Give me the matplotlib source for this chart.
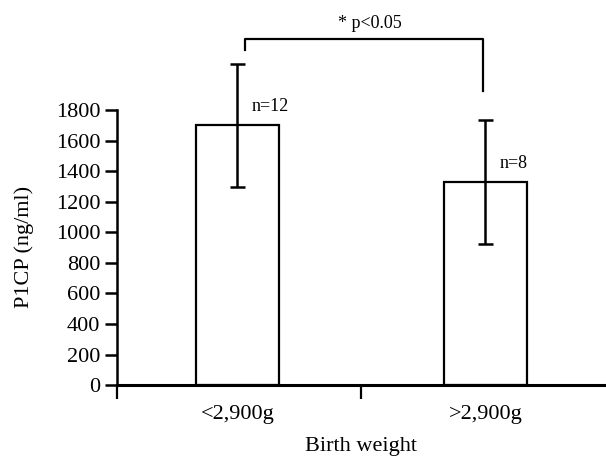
import numpy as np
import matplotlib
matplotlib.use('Agg')
import matplotlib.pyplot as plt

groups = ['<2,900g', '>2,900g']
means = [1700, 1330]
errs = [402, 407]
counts = ['n=12', 'n=8']
yticks = [0, 200, 400, 600, 800, 1000, 1200, 1400, 1600, 1800]
bracket_y = 2265
bracket_left_end = 2195
bracket_right_end = 1925
sig_label = '* p<0.05'

plt.rcParams['font.family'] = ['Liberation Serif', 'DejaVu Serif']

fig = plt.figure(figsize=(6.06, 4.59), dpi=100)
ax = fig.add_axes([0.193, 0.161, 0.807, 0.839])

x = np.arange(len(groups))
ax.bar(x, means, width=0.335, color='white', edgecolor='black', linewidth=1.6, zorder=2)
ax.errorbar(x, means, yerr=errs, fmt='none', ecolor='black', elinewidth=1.8,
            capsize=5.4, capthick=1.8, zorder=3)

for xi, m, c in zip(x, means, counts):
    ax.text(xi + 0.058, m + 65, c, fontsize=13, ha='left', va='bottom')

# significance bracket
ax.plot([0.03, 0.03, 0.99, 0.99],
        [bracket_left_end, bracket_y, bracket_y, bracket_right_end],
        color='black', linewidth=1.6, clip_on=False)
ax.text(0.535, bracket_y + 45, sig_label, fontsize=13, ha='center', va='bottom')

ax.set_xlim(-0.486, 1.486)
ax.set_ylim(0, 2520)

ax.spines['top'].set_visible(False)
ax.spines['right'].set_visible(False)
ax.spines['left'].set_bounds(0, 1800)
ax.spines['left'].set_linewidth(1.8)
ax.spines['bottom'].set_linewidth(2.2)

ax.set_yticks(yticks)
ax.set_yticklabels([str(v) for v in yticks], fontsize=16)
ax.tick_params(axis='y', direction='out', length=9, width=1.8, pad=3)

ax.set_xticks(x)
ax.set_xticklabels(groups, fontsize=16)
ax.set_xticks([-0.486, 0.5], minor=True)
ax.tick_params(axis='x', which='major', length=0, pad=14)
ax.tick_params(axis='x', which='minor', direction='out', length=10, width=1.6)

ax.set_xlabel('Birth weight', fontsize=16, labelpad=10)
ax.set_ylabel('P1CP (ng/ml)', fontsize=16)
ax.yaxis.set_label_coords(-0.17, 0.36)

plt.savefig('out.png', dpi=100)
